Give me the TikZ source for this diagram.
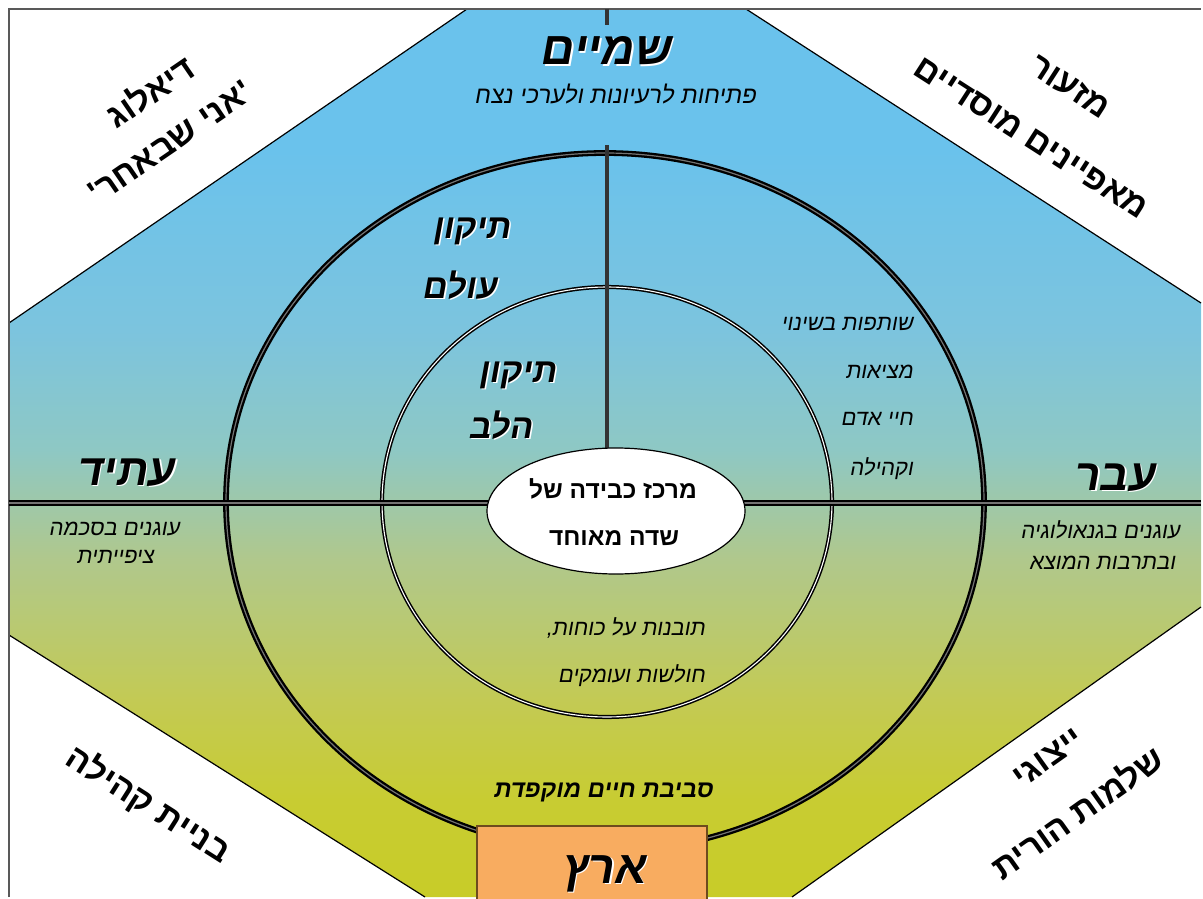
\documentclass[tikz,border=0pt]{standalone}
\usepackage{fontspec}
\usetikzlibrary{shapes.geometric}
\TeXXeTstate=1
\newfontfamily\hb[Script=Hebrew]{Liberation Sans}
\newfontfamily\hbs[Script=Hebrew,FakeSlant=0.18]{Liberation Sans}
\newcommand\RL[1]{\beginR#1\endR}
\newcommand\SH[1]{\rlap{\kern1.6pt\raisebox{-1.6pt}{\color{white}\RL{#1}}}\RL{#1}}
\definecolor{g1}{RGB}{200,204,40}
\definecolor{g2}{RGB}{200,204,50}
\definecolor{g3}{RGB}{195,202,84}
\definecolor{g4}{RGB}{176,200,140}
\definecolor{g5}{RGB}{142,200,196}
\definecolor{g6}{RGB}{124,196,222}
\definecolor{g7}{RGB}{106,194,236}
\definecolor{earthbox}{RGB}{248,172,96}
\definecolor{earthline}{RGB}{110,75,30}
\pgfdeclareverticalshading{skyearth}{100bp}{color(0bp)=(g1); color(25bp)=(g1); color(30.5bp)=(g2); color(36.1bp)=(g3); color(44bp)=(g4); color(50.2bp)=(g5); color(56.9bp)=(g6); color(67.1bp)=(g7); color(75bp)=(g7); color(100bp)=(g7)}
\tikzset{
  txt/.style={inner sep=0pt, anchor=base, font=\hbs\fontsize{#1pt}{#1pt}\selectfont},
  btxt/.style={inner sep=0pt, anchor=base, font=\hbs\bfseries\fontsize{#1pt}{#1pt}\selectfont},
  corner/.style={inner sep=0pt, anchor=center, font=\hb\bfseries\fontsize{34pt}{34pt}\selectfont},
  dbl/.style={draw=black, line width=2.3pt, double=black!55, double distance=1.2pt},
  dblthin/.style={draw=black, line width=1.5pt, double=white, double distance=1.1pt},
  vline/.style={draw=black!80, line width=3.8pt},
}
\begin{document}
\begin{tikzpicture}[x=1pt,y=-1pt]
\useasboundingbox (0,0) rectangle (1203,899);
\fill[white] (0,0) rectangle (1203,899);
% background octagon
\shade[shading=skyearth] (467,9) -- (746,9) -- (1201,303) -- (1201,607) -- (792,897) -- (425,897) -- (9,635) -- (9,323) -- cycle;
\draw[line width=1.2pt] (467,9) -- (9,323) (746,9) -- (1201,303) (1201,607) -- (792,897) (425,897) -- (9,635);
\draw[gray!70!black, line width=1.2pt] (9,897) -- (9,9) -- (1201,9);
% centre coordinates
\coordinate (oc) at (605,502);
\coordinate (ic) at (607,502);
\coordinate (corec) at (616,511);
\coordinate (vtop) at (607,9);
\coordinate (vtopend) at (607,25);
\coordinate (vmid) at (607,145);
\coordinate (hl) at (9,503);
\coordinate (hr) at (1201,503);
% rings
\draw[dbl] (oc) ellipse [x radius=379pt, y radius=349pt];
\draw[dblthin] (ic) ellipse [x radius=225pt, y radius=215pt];
% axes
\draw[vline] (vtop) -- (vtopend);
\draw[vline] (vmid) -- (vmid |- corec);
\draw[dbl] (hl) -- (hr);
% centre ellipse
\node[ellipse, draw=black, line width=1.2pt, fill=white, minimum width=258pt, minimum height=126pt, inner sep=0pt] (core) at (corec) {};
% earth box
\node[rectangle, draw=earthline, line width=1.8pt, fill=earthbox, anchor=north, minimum width=230pt, minimum height=90pt, inner sep=0pt] (earthbox) at (592,825) {};
% titles with shadow
\node[btxt=46] (sham) at (605,65) {\SH{שמיים}};
\node[txt=24] (shamsub) at (615,103) {\RL{פתיחות לרעיונות ולערכי נצח}};
\node[btxt=44] (atid) at (125,485) {\SH{עתיד}};
\node[txt=22] (atid1) at (114,535) {\RL{עוגנים בסכמה}};
\node[txt=22] (atid2) at (115,563) {\RL{ציפייתית}};
\node[btxt=44] (aver) at (1114,490) {\SH{עבר}};
\node[txt=22] (aver1) at (1100,538) {\RL{עוגנים בגנאולוגיה}};
\node[txt=22] (aver2) at (1102,569) {\RL{ובתרבות המוצא}};
\node[btxt=46] (eretz) at (603,883) {\SH{ארץ}};
\node[btxt=34] (tol1) at (471,238) {\SH{תיקון}};
\node[btxt=34] (tol2) at (459,298) {\SH{עולם}};
\node[btxt=34] (tlev1) at (517,382) {\SH{תיקון}};
\node[btxt=34] (tlev2) at (500,438) {\SH{הלב}};
% right column
\node[txt=22, anchor=base east] (r1) at (913,330) {\RL{שותפות בשינוי}};
\node[txt=22, anchor=base east] (r2) at (913,378) {\RL{מציאות}};
\node[txt=22, anchor=base east] (r3) at (913,425) {\RL{חיי אדם}};
\node[txt=22, anchor=base east] (r4) at (913,475) {\RL{וקהילה}};
% core text
\node[inner sep=0pt, anchor=base, font=\hb\bfseries\fontsize{24.5pt}{24.5pt}\selectfont] (core1) at (613,498) {\RL{מרכז כבידה של}};
\node[inner sep=0pt, anchor=base, font=\hb\bfseries\fontsize{24.5pt}{24.5pt}\selectfont] (core2) at (614,545) {\RL{שדה מאוחד}};
% lower texts
\node[txt=22, anchor=base east] (low1) at (705,635) {\RL{תובנות על כוחות,}};
\node[txt=22, anchor=base east] (low2) at (705,682) {\RL{חולשות ועומקים}};
\node[btxt=24] (env) at (603,797) {\RL{סביבת חיים מוקפדת}};
% corner labels
\node[corner, rotate=34.4] (dl1) at (150,91) {\RL{דיאלוג}};
\node[corner, rotate=34.4] (dl2) at (170,142) {\RL{'אני שבאחר'}};
\node[corner, rotate=-32.8] (mz1) at (1070,87) {\RL{מזעור}};
\node[corner, rotate=-32.8] (mz2) at (1031,138) {\RL{מאפיינים מוסדיים}};
\node[corner, rotate=-32.4] (bk) at (148,805) {\RL{בניית קהילה}};
\node[corner, rotate=35.4] (yz1) at (1048,758) {\RL{ייצוגי}};
\node[corner, rotate=35.4] (yz2) at (1077,812) {\RL{שלמות הורית}};
\end{tikzpicture}
\end{document}
